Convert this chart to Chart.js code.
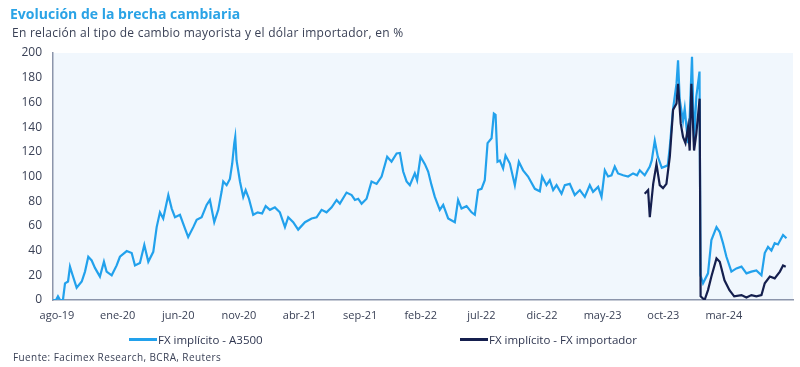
<!DOCTYPE html>
<html>
<head>
<meta charset="utf-8">
<script src="https://cdn.jsdelivr.net/npm/chart.js@4"></script>
<style>
  html, body { margin:0; padding:0; background:#ffffff; }
  body { width:800px; height:367px; position:relative; overflow:hidden; font-family:"Open Sans", sans-serif; }
  #title { position:absolute; left:10px; top:4px; font-size:14px; font-weight:700; color:#2aa3e6; letter-spacing:0px; }
  #subtitle { position:absolute; left:12px; top:24px; font-size:12px; letter-spacing:0.25px; color:#3a4156; }
  #source { position:absolute; left:13px; top:350px; font-size:10px; letter-spacing:0.4px; color:#3a4156; }
  #chartWrap { position:absolute; left:0; top:0; width:800px; height:367px; }
  .leg { position:absolute; top:332px; font-size:11.5px; color:#2f3650; display:flex; align-items:center; white-space:nowrap; }
  .leg span.sw { display:inline-block; width:28px; height:2.5px; margin-right:1px; }
</style>
</head>
<body>
<div id="chartWrap"><canvas id="c" width="800" height="367"></canvas></div>
<div id="title">Evolución de la brecha cambiaria</div>
<div id="subtitle">En relación al tipo de cambio mayorista y el dólar importador, en %</div>
<div class="leg" style="left:129px;"><span class="sw" style="background:#22a1ec"></span>FX implícito - A3500</div>
<div class="leg" style="left:460px;"><span class="sw" style="background:#151f4e"></span>FX implícito - FX importador</div>
<div id="source">Fuente: Facimex Research, BCRA, Reuters</div>
<script>
// x values: months since August 2019
const tickMonths = [0,5,10,15,20,25,30,35,40,45,50,55];
const tickLabels = ['ago-19','ene-20','jun-20','nov-20','abr-21','sep-21','feb-22','jul-22','dic-22','may-23','oct-23','mar-24'];

const a3500Months = [-0.33,-0.08,0.08,0.25,0.49,0.66,0.91,1.07,1.29,1.62,2.04,2.31,2.58,2.86,3.13,3.54,3.87,4.09,4.51,4.92,
  5.19,5.75,6.16,6.43,6.84,7.20,7.53,7.94,8.22,8.49,8.76,9.18,9.46,9.73,10.14,10.55,10.82,11.24,11.52,11.93,
  12.34,12.61,12.97,13.30,13.58,13.71,13.99,14.26,14.45,14.62,14.70,14.81,15.09,15.36,15.56,15.83,16.18,16.55,16.92,17.21,
  17.56,17.97,18.38,18.80,19.07,19.48,19.89,20.45,21.00,21.41,21.82,22.23,22.65,23.06,23.33,23.88,24.30,24.57,24.84,25.12,
  25.53,25.94,26.36,26.77,27.23,27.59,28.01,28.28,28.55,28.83,29.10,29.51,29.70,29.98,30.34,30.61,30.89,31.16,31.57,31.85,
  32.26,32.81,33.08,33.36,33.78,34.19,34.46,34.73,35.01,35.28,35.51,35.84,36.03,36.17,36.33,36.52,36.79,36.99,37.35,37.76,
  38.09,38.44,38.85,39.41,39.82,40.01,40.37,40.64,40.92,41.20,41.61,41.88,42.29,42.70,43.12,43.53,43.94,44.21,44.63,44.91,
  45.18,45.45,45.73,46.00,46.27,46.69,47.10,47.51,47.84,48.06,48.47,48.89,49.05,49.30,49.55,49.88,50.37,50.54,50.81,51.09,
  51.22,51.36,51.63,51.77,52.04,52.18,52.37,52.54,52.73,52.99,53.07,53.28,53.69,53.97,54.39,54.66,54.93,55.21,55.62,56.03,
  56.45,56.86,57.27,57.68,58.10,58.37,58.64,58.92,59.19,59.46,59.88,60.16];
const a3500Values = [0,0,3,0,0,13.5,15,27,20,10,15,23,35,32,26,19,31,23,20,28,
  35,39.6,38,28,30,44.5,31,39,59,71,66,85,74,67,69,58,51,59,65,67,
  77,81,63,73,88,96,93,98,110.5,127,132,113,96,83.5,89,82,69,71,70,76,
  73,75,71,59,67,63,57,63,66,67,73,71,75,81,78,87,85,81,82,78,
  82,96,94,100,116,112,118.6,119,104,96,93,102.5,97,116,110,104,93,83.5,73,77,
  66,63,81,74,76,71,69,89,90,97,127,131,151,150,112,113,106.5,117,110.5,93,
  112,105,100,90,88,100,93,97,89,93,86,93,94,85,89,83.5,93,87.6,91.6,83.5,
  105,100,101,108,102.5,101,100,102.5,101,105,101,108,113,129,116,107,109,124,155,175,
  194,162,145,155,127,148,197,128,165,185,20,13.5,21.6,48.5,59,55,46,35,23,25.6,
  27,21.6,23,24,20,38,43,40,46,45,52.6,50];

const importMonths = [48.47,48.75,48.89,49.17,49.44,49.71,49.98,50.26,50.54,50.81,51.09,51.22,51.44,51.63,51.83,52.04,52.18,52.32,52.54,52.73,
  53.00,53.08,53.41,53.69,53.97,54.39,54.66,55.05,55.46,55.85,56.45,56.86,57.27,57.68,58.10,58.37,58.79,59.19,59.62,59.88,60.10];
const importValues = [86,89,67,94,110,93,90.6,94,116,154,159,175,143,132,127,140,121,175,121,135,
  163,3,0,8,19,33.7,31,16,8,3,4,2,4,3,4,13.5,19,17.5,23,28,27];

const yTicks = [0,20,40,60,80,100,120,140,160,180,200];

const toPts = (xs, ys) => xs.map((x, i) => ({x: x, y: ys[i]}));

const bgPlugin = {
  id: 'plotBg',
  beforeDraw(chart) {
    const {ctx, chartArea: a} = chart;
    ctx.save();
    ctx.fillStyle = '#f1f7fd';
    ctx.fillRect(a.left, a.top, a.right - a.left, a.bottom - a.top);
    ctx.restore();
  }
};

new Chart(document.getElementById('c'), {
  type: 'line',
  data: {
    datasets: [
      { label: 'FX implícito - FX importador', data: toPts(importMonths, importValues),
        borderColor: '#151f4e', borderWidth: 2.2, pointRadius: 0, tension: 0, order: 0 },
      { label: 'FX implícito - A3500', data: toPts(a3500Months, a3500Values),
        borderColor: '#22a1ec', borderWidth: 2.2, pointRadius: 0, tension: 0, order: 1 }
    ]
  },
  options: {
    responsive: false,
    animation: false,
    events: [],
    layout: { padding: { top: 53, left: 0, right: 7, bottom: 0 } },
    plugins: { legend: { display: false }, tooltip: { enabled: false } },
    scales: {
      x: {
        type: 'linear', min: -0.33, max: 60.7,
        grid: { display: false, drawTicks: false },
        border: { display: true, color: '#8c95ab', width: 1.5 },
        afterFit(s) { s.height = 67; },
        afterBuildTicks(s) { s.ticks = tickMonths.map(v => ({ value: v })); },
        ticks: {
          padding: 9, maxRotation: 0, autoSkip: false,
          color: '#3a4156', font: { family: 'Open Sans', size: 11 },
          callback: (v) => { const i = tickMonths.indexOf(v); return i >= 0 ? tickLabels[i] : ''; }
        }
      },
      y: {
        min: 0, max: 200,
        grid: { display: false, drawTicks: false },
        border: { display: true, color: '#8c95ab', width: 1.5 },
        afterFit(s) { s.width = 53; },
        afterBuildTicks(s) { s.ticks = yTicks.map(v => ({ value: v })); },
        ticks: { padding: 11, color: '#3a4156', font: { family: 'Open Sans', size: 12 } }
      }
    }
  },
  plugins: [bgPlugin]
});
</script>
</body>
</html>
